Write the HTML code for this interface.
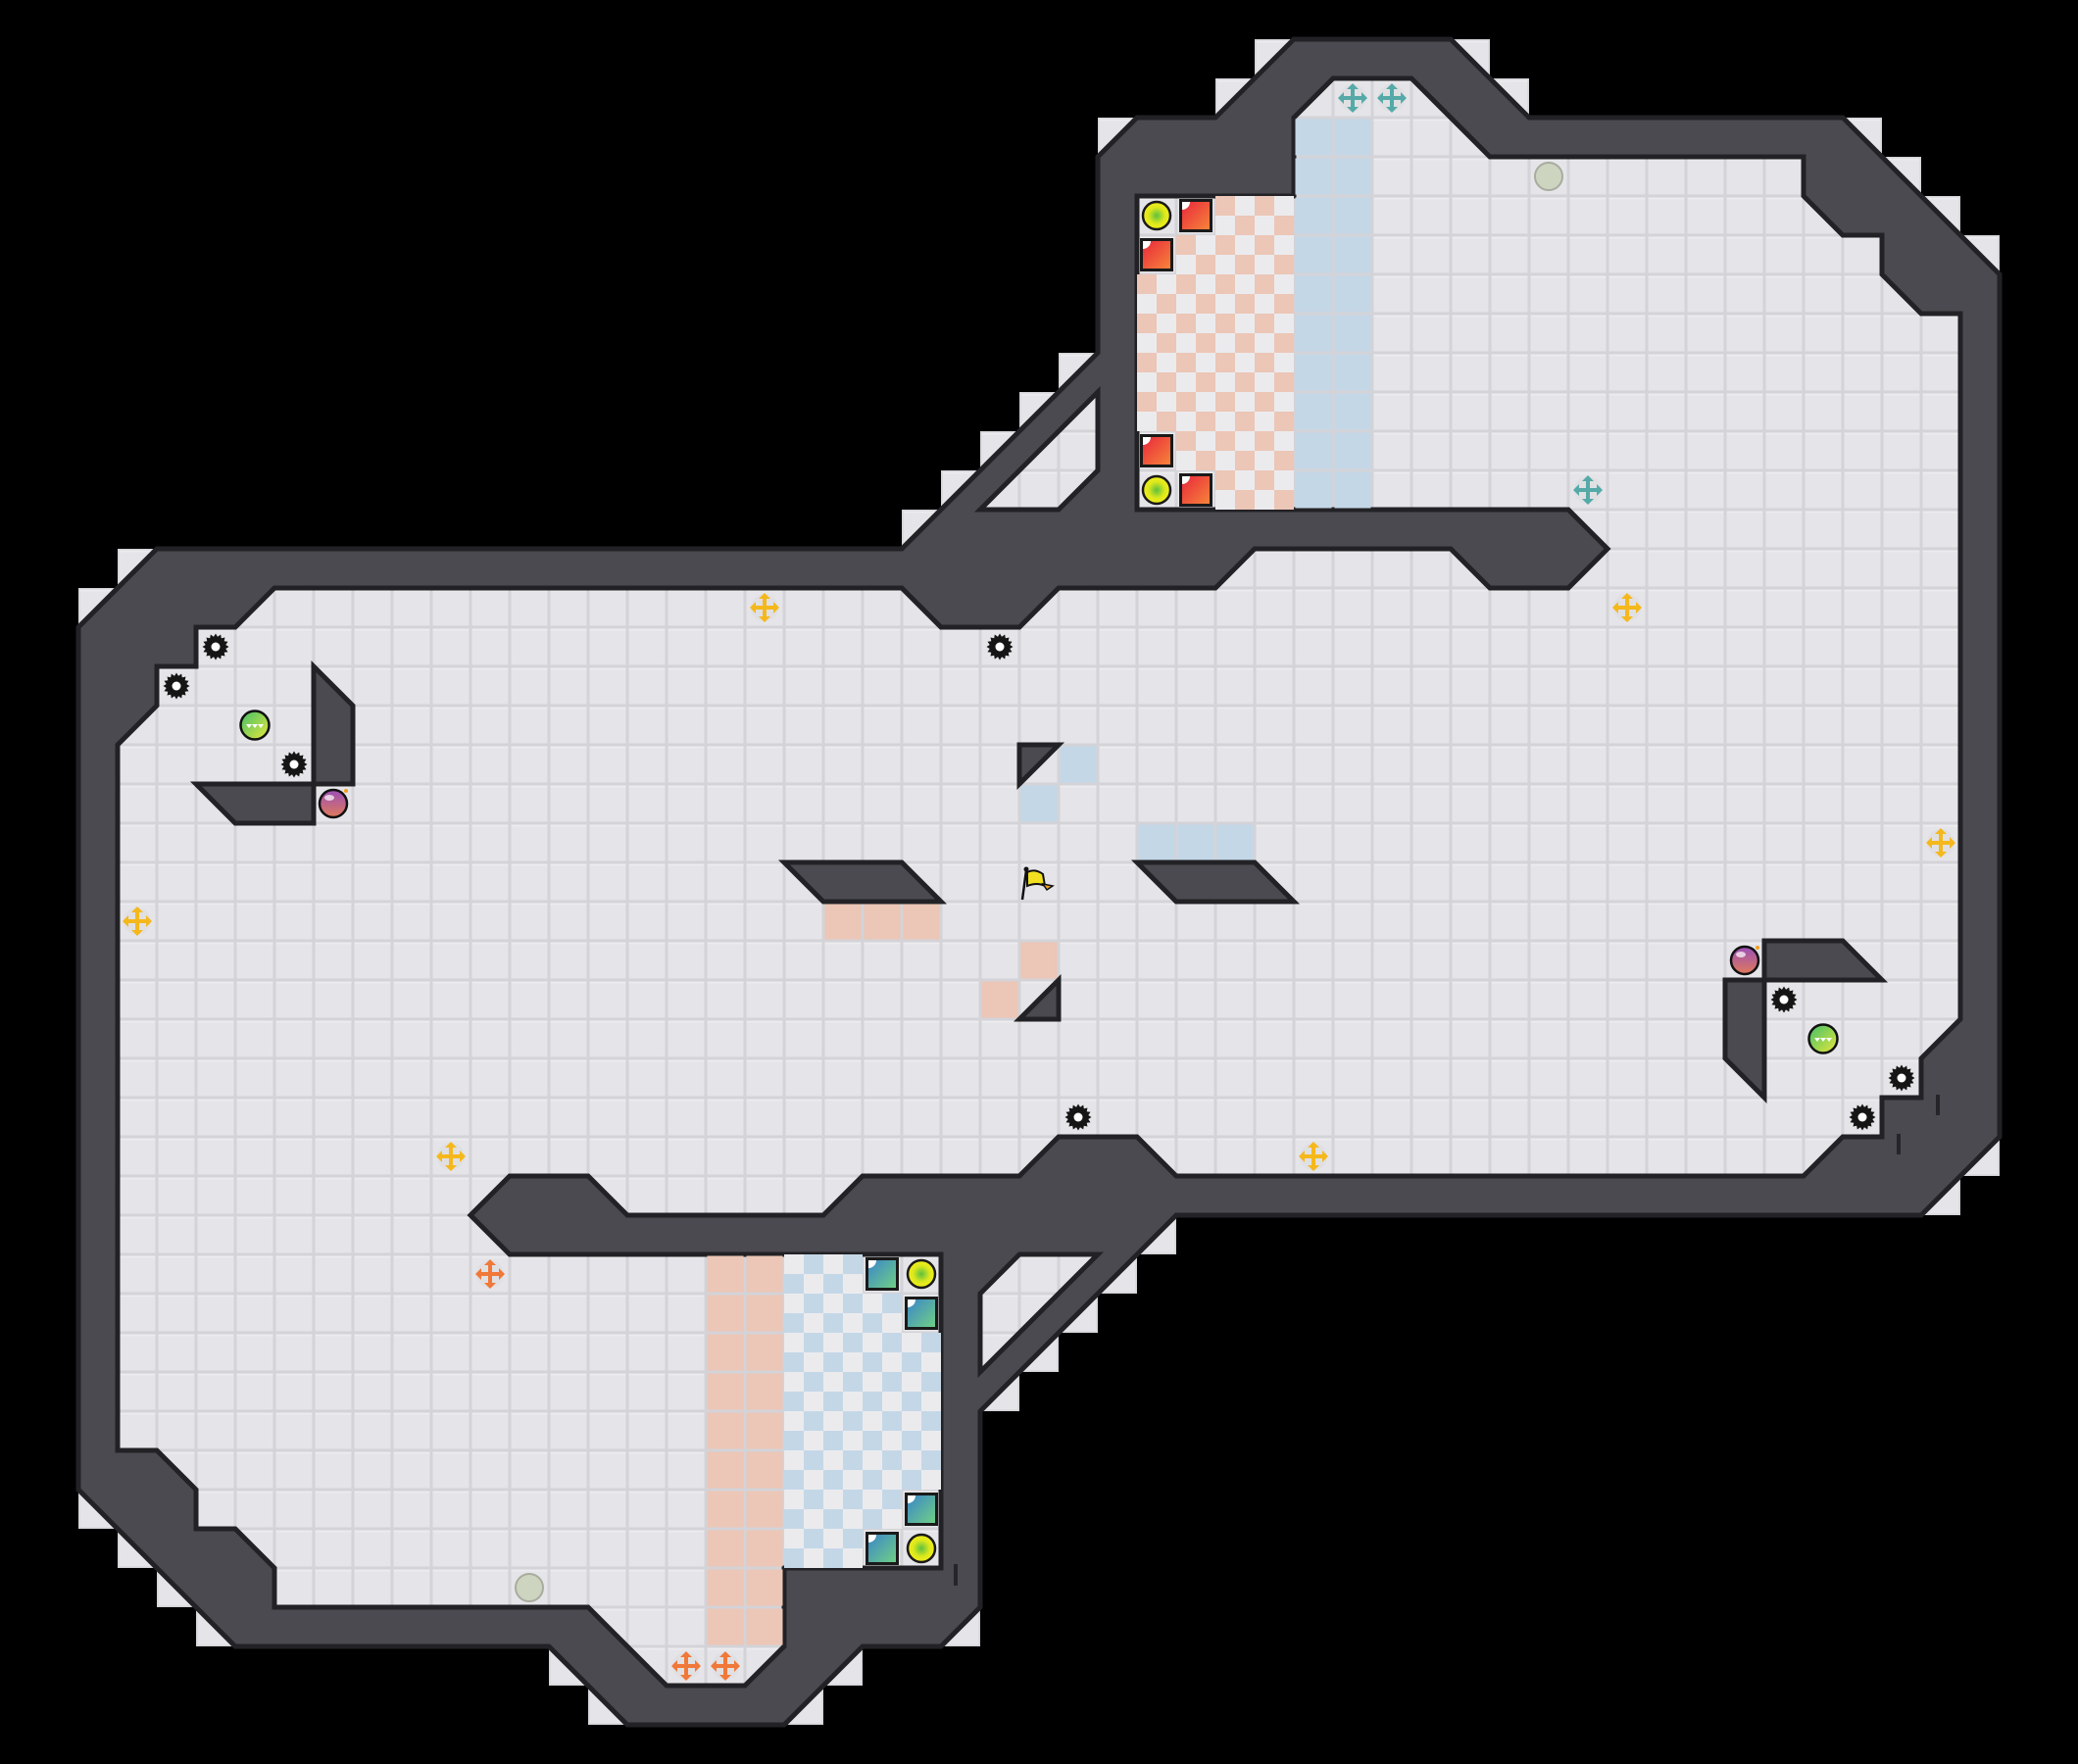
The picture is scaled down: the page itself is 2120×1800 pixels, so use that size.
<!DOCTYPE html>
<html><head><meta charset="utf-8"><style>html,body{margin:0;padding:0;background:#000}svg{display:block}</style></head>
<body>
<svg id="s" xmlns="http://www.w3.org/2000/svg" width="2120" height="1800" viewBox="0 0 2120 1800"></svg>
<script>
const T=40;
const P=a=>a.map(p=>(p[0]*T)+','+(p[1]*T)).join(' ');
let h='';
h+=`<defs>
<pattern id="t" width="40" height="40" patternUnits="userSpaceOnUse"><rect width="40" height="40" fill="#d3d3d8"/><rect x="1.5" y="1.5" width="37" height="37" fill="#e5e5e9"/><rect x="1.5" y="1.5" width="37" height="2" fill="#ececef"/></pattern>
<linearGradient id="gr" x1="0" y1="0" x2="1" y2="1"><stop offset="0" stop-color="#e8283c"/><stop offset="1" stop-color="#f7843a"/></linearGradient>
<linearGradient id="gt" x1="0" y1="0" x2="1" y2="1"><stop offset="0" stop-color="#3a86c8"/><stop offset="1" stop-color="#6fcf86"/></linearGradient>
<linearGradient id="gg" x1="0" y1="0" x2="1" y2="1"><stop offset="0" stop-color="#3fbf6a"/><stop offset="1" stop-color="#e8e83a"/></linearGradient>
<linearGradient id="gb" x1="0" y1="0" x2="0" y2="1"><stop offset="0" stop-color="#9b4fb8"/><stop offset="1" stop-color="#e07a5a"/></linearGradient>
<radialGradient id="gy"><stop offset="0" stop-color="#5cc040"/><stop offset="0.6" stop-color="#dce81c"/><stop offset="1" stop-color="#f2ee1a"/></radialGradient>
</defs>`;
h+=`<rect width="2120" height="1800" fill="#000"/>`;
const O=[[4,14],[23,14],[28,9],[28,4],[29,3],[31,3],[33,1],[37,1],[39,3],[47,3],[51,7],[51,29],[49,31],[30,31],[25,36],[25,41],[24,42],[22,42],[20,44],[16,44],[14,42],[6,42],[2,38],[2,16]];
// notches
for(let i=0;i<O.length;i++){const a=O[i],b=O[(i+1)%O.length];const dx=b[0]-a[0],dy=b[1]-a[1];
 if(dx!==0&&dy!==0){const n=Math.abs(dx),sx=Math.sign(dx),sy=Math.sign(dy);
  for(let k=0;k<n;k++){const x=Math.min(a[0]+k*sx,a[0]+(k+1)*sx),y=Math.min(a[1]+k*sy,a[1]+(k+1)*sy);
   h+=`<rect x="${x*T}" y="${y*T}" width="40" height="40" fill="url(#t)"/>`;}}}
h+=`<polygon points="${P(O)}" fill="#4b4a50" stroke="#222226" stroke-width="5" stroke-linejoin="miter"/>`;
const F=[[3,19],[4,18],[4,17],[5,17],[5,16],[6,16],[7,15],[23,15],[24,16],[26,16],[27,15],[31,15],[32,14],[37,14],[38,15],[40,15],[41,14],[40,13],[29,13],[29,5],[33,5],[33,3],[34,2],[36,2],[38,4],[46,4],[46,5],[47,6],[48,6],[48,7],[49,8],[50,8],[50,26],[49,27],[49,28],[48,28],[48,29],[47,29],[46,30],[30,30],[29,29],[27,29],[26,30],[22,30],[21,31],[16,31],[15,30],[13,30],[12,31],[13,32],[24,32],[24,40],[20,40],[20,42],[19,43],[17,43],[16,42],[15,41],[7,41],[7,40],[6,39],[5,39],[5,38],[4,37],[3,37]];
const H1=[[25,13],[28,10],[28,12],[27,13]],H2=[[25,33],[26,32],[28,32],[25,35]];
for(const f of [F,H1,H2]) h+=`<polygon points="${P(f)}" fill="url(#t)" stroke="#222226" stroke-width="5"/>`;
// special tiles
const tile=(x,y,c)=>`<rect x="${x*T+1.5}" y="${y*T+1.5}" width="37" height="37" fill="${c}"/>`;
const BL='#c4d7e7',PE='#ecc6b6';
const items={};
const mark=(x,y)=>items[x+','+y]=1;
[[30,5],[29,6],[29,11],[30,12],[29,5],[29,12],[23,32],[23,39],[22,32],[23,33],[23,38],[22,39]].forEach(p=>mark(p[0],p[1]));
for(let y=3;y<13;y++)for(let x=33;x<35;x++)h+=tile(x,y,BL);
for(let cy=10;cy<26;cy++)for(let cx=58;cx<66;cx++){if(items[(cx>>1)+','+(cy>>1)])continue;
 if((cx+cy)%2==0)h+=`<rect x="${cx*20}" y="${cy*20}" width="20" height="20" fill="${PE}"/>`;else h+=`<rect x="${cx*20}" y="${cy*20}" width="20" height="20" fill="#ebebee"/>`;}
for(let y=32;y<42;y++)for(let x=18;x<20;x++)h+=tile(x,y,PE);
for(let cy=64;cy<80;cy++)for(let cx=40;cx<48;cx++){if(items[(cx>>1)+','+(cy>>1)])continue;
 if((cx+cy)%2==1)h+=`<rect x="${cx*20}" y="${cy*20}" width="20" height="20" fill="${BL}"/>`;else h+=`<rect x="${cx*20}" y="${cy*20}" width="20" height="20" fill="#ebebee"/>`;}
[[27,19],[26,20],[29,21],[30,21],[31,21]].forEach(p=>h+=tile(p[0],p[1],BL));
[[21,23],[22,23],[23,23],[26,24],[25,25]].forEach(p=>h+=tile(p[0],p[1],PE));
// inner walls
const W=[[[8,17],[9,18],[9,20],[8,20]],[[5,20],[8,20],[8,21],[6,21]],[[45,24],[47,24],[48,25],[45,25]],[[44,25],[45,25],[45,28],[44,27]],
[[20,22],[23,22],[24,23],[21,23]],[[29,22],[32,22],[33,23],[30,23]],[[26,19],[27,19],[26,20]],[[27,25],[27,26],[26,26]]];
W.forEach(w=>h+=`<polygon points="${P(w)}" fill="#4b4a50" stroke="#222226" stroke-width="5"/>`);
// marks
[[1977,1117,1138],[1937,1157,1178],[975,1596,1618]].forEach(m=>h+=`<line x1="${m[0]}" y1="${m[1]}" x2="${m[0]}" y2="${m[2]}" stroke="#25252a" stroke-width="4"/>`);
const C=(x,y)=>[x*T+20,y*T+20];
function gear(x,y){const[cx,cy]=C(x,y);let p=[];for(let i=0;i<32;i++){const r=i%2?10.5:13.5;const a=i*Math.PI/16;p.push((cx+r*Math.cos(a)).toFixed(1)+','+(cy+r*Math.sin(a)).toFixed(1));}
 return `<polygon points="${p.join(' ')}" fill="#151515"/><circle cx="${cx}" cy="${cy}" r="4.5" fill="#fff"/>`;}
function arrow(x,y,col){const[cx,cy]=C(x,y);let s=`<circle cx="${cx}" cy="${cy}" r="14" fill="#dcdce0" opacity="0.6"/>`;
 s+=`<path d="M${cx-11} ${cy}H${cx+11}M${cx} ${cy-11}V${cy+11}" stroke="${col}" stroke-width="4"/>`;
 s+=`<path d="M${cx-15} ${cy}l6 -6v12zM${cx+15} ${cy}l-6 -6v12zM${cx} ${cy-15}l-6 6h12zM${cx} ${cy+15}l-6 -6h12z" fill="${col}"/>`;return s;}
function sq(x,y,g){const[cx,cy]=C(x,y);return `<rect x="${cx-17}" y="${cy-17}" width="34" height="34" fill="#1a1a1a"/><rect x="${cx-14}" y="${cy-14}" width="28" height="28" fill="url(#${g})"/><path d="M${cx-14} ${cy-14}h8a8 8 0 0 1 -8 8z" fill="#fff"/>`;}
function ycirc(x,y){const[cx,cy]=C(x,y);return `<circle cx="${cx}" cy="${cy}" r="14" fill="url(#gy)" stroke="#1a1a1a" stroke-width="2.5"/>`;}
function green(x,y){const[cx,cy]=C(x,y);return `<circle cx="${cx}" cy="${cy}" r="14.5" fill="url(#gg)" stroke="#111" stroke-width="2.5"/><path d="M${cx-9} ${cy-1}l3 4l3 -4zM${cx-3} ${cy-1}l3 4l3 -4zM${cx+3} ${cy-1}l3 4l3 -4z" fill="#fff"/>`;}
function bomb(x,y){const[cx,cy]=C(x,y);return `<circle cx="${cx}" cy="${cy}" r="14" fill="url(#gb)" stroke="#111" stroke-width="2.5"/><ellipse cx="${cx-4}" cy="${cy-6}" rx="5" ry="3" fill="#fff" opacity="0.7"/><circle cx="${cx+13}" cy="${cy-13}" r="2" fill="#f0a020"/>`;}
function grey(x,y){const[cx,cy]=C(x,y);return `<circle cx="${cx}" cy="${cy}" r="14" fill="#cdd4bf" stroke="#a8ac9f" stroke-width="2"/>`;}
[[5,16],[4,17],[7,19],[25,16],[27,28],[45,25],[48,27],[47,28]].forEach(p=>h+=gear(...p));
[[6,18],[46,26]].forEach(p=>h+=green(...p));
[[8,20],[44,24]].forEach(p=>h+=bomb(...p));
[[19,15],[41,15],[49,21],[3,23],[11,29],[33,29]].forEach(p=>h+=arrow(p[0],p[1],'#f5b81c'));
[[34,2],[35,2],[40,12]].forEach(p=>h+=arrow(p[0],p[1],'#55aaa8'));
[[12,32],[17,42],[18,42]].forEach(p=>h+=arrow(p[0],p[1],'#f07838'));
[[39,4],[13,40]].forEach(p=>h+=grey(...p));
[[30,5],[29,6],[29,11],[30,12]].forEach(p=>h+=sq(p[0],p[1],'gr'));
[[22,32],[23,33],[23,38],[22,39]].forEach(p=>h+=sq(p[0],p[1],'gt'));
[[29,5],[29,12],[23,32],[23,39]].forEach(p=>h+=ycirc(...p));
// flag
{const x=1040,y=880;h+=`<line x1="${x+3}" y1="${y+38}" x2="${x+7}" y2="${y+8}" stroke="#111" stroke-width="2.5"/><circle cx="${x+7}" cy="${y+7}" r="2.5" fill="#111"/><path d="M${x+8} ${y+10}q8 -4 16 2l2 12q-8 -4 -18 0z" fill="#f2e020" stroke="#111" stroke-width="2"/><path d="M${x+24} ${y+22}l10 2l-6 4z" fill="#f0a020" stroke="#111" stroke-width="1.5"/>`;}
document.getElementById('s').innerHTML=h;
</script>
</body></html>
